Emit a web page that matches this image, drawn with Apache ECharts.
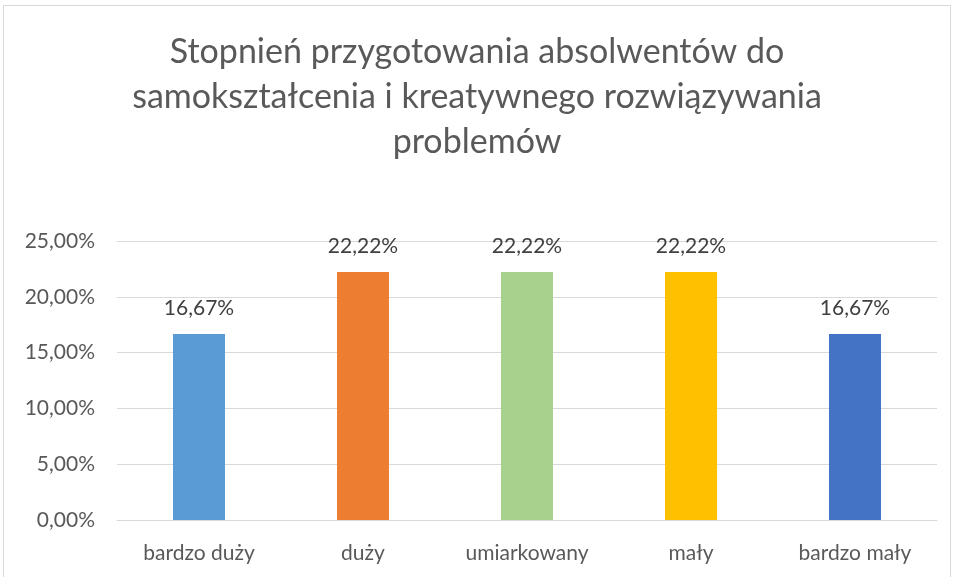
<!DOCTYPE html>
<html>
<head>
<meta charset="utf-8">
<script src="https://cdn.jsdelivr.net/npm/echarts@6/dist/echarts.min.js"></script>
<style>
  html, body { margin: 0; padding: 0; background: #fff; }
  #chart { width: 954px; height: 577px; }
</style>
</head>
<body>
<div id="chart"></div>
<script>
// data
const categories = ["bardzo duży", "duży", "umiarkowany", "mały", "bardzo mały"];
const values = [16.67, 22.22, 22.22, 22.22, 16.67];
const barColors = ["#5b9bd5", "#ed7d31", "#a9d18e", "#ffc000", "#4472c4"];
const titleText = "Stopnień przygotowania absolwentów do\nsamokształcenia i kreatywnego rozwiązywania\nproblemów";

const fmt = (v) => v.toFixed(2).replace(".", ",") + "%";
const font = "Lato, 'Open Sans', sans-serif";

const chart = echarts.init(document.getElementById("chart"));

chart.setOption({
  animation: false,
  title: {
    text: titleText,
    left: "center",
    top: 25,
    textStyle: {
      fontFamily: font,
      fontWeight: "normal",
      fontSize: 34,
      lineHeight: 45,
      color: "#595959",
    },
  },
  grid: { left: 117, right: 17, top: 241, bottom: 57 },
  xAxis: {
    type: "category",
    data: categories,
    axisTick: { show: false },
    axisLine: { lineStyle: { color: "#d9d9d9", width: 1 } },
    axisLabel: { fontFamily: font, fontSize: 21, color: "#595959", margin: 23 },
  },
  yAxis: {
    type: "value",
    min: 0,
    max: 25,
    interval: 5,
    axisLabel: {
      fontFamily: font,
      fontSize: 21,
      color: "#595959",
      margin: 22,
      formatter: fmt,
    },
    splitLine: { lineStyle: { color: "#d9d9d9", width: 1 } },
  },
  series: [
    {
      type: "bar",
      barWidth: 52,
      data: values.map((v, i) => ({ value: v, itemStyle: { color: barColors[i] } })),
      label: {
        show: true,
        position: "top",
        distance: 15,
        fontFamily: font,
        fontSize: 21,
        color: "#404040",
        formatter: (p) => fmt(p.value),
      },
    },
  ],
  graphic: [
    {
      type: "rect",
      shape: { x: 3.5, y: 5.5, width: 947, height: 580 },
      style: { fill: null, stroke: "#d9d9d9", lineWidth: 1 },
      silent: true,
    },
  ],
});
</script>
</body>
</html>
